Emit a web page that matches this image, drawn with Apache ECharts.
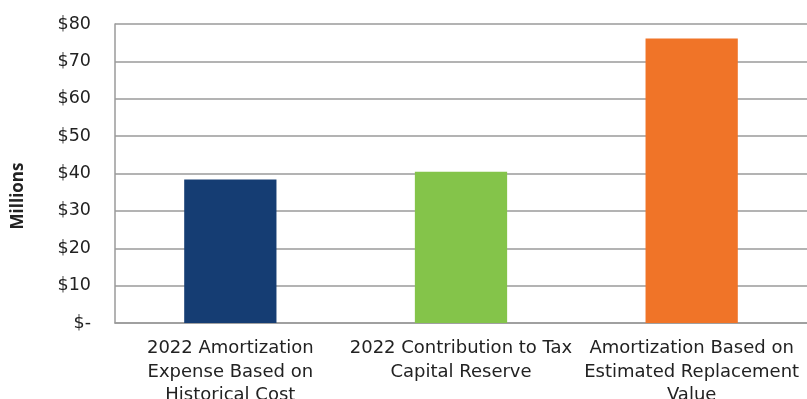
<!DOCTYPE html>
<html>
<head>
<meta charset="utf-8">
<script src="https://cdn.jsdelivr.net/npm/echarts@6/dist/echarts.min.js"></script>
<style>
  html, body { margin: 0; padding: 0; background: #fff; }
  #chart { width: 807px; height: 399px; }
</style>
</head>
<body>
<div id="chart"></div>
<script>
// Amortization comparison, values in millions of dollars
const categories = [
  '2022 Amortization\nExpense Based on\nHistorical Cost',
  '2022 Contribution to Tax\nCapital Reserve',
  'Amortization Based on\nEstimated Replacement\nValue'
];
const values = [38.4, 40.5, 76.1];
const barColors = ['#153D73', '#84C44A', '#F07428'];
const yTicks = [0, 10, 20, 30, 40, 50, 60, 70, 80];

const LABEL_FONT = '"DejaVu Sans"';
const TITLE_FONT = '"Open Sans"';
const chart = echarts.init(document.getElementById('chart'), null, { renderer: 'canvas' });

chart.setOption({
  animation: false,
  textStyle: { fontFamily: LABEL_FONT },
  grid: { left: 115, right: 0, top: 24, bottom: 76, containLabel: false, outerBoundsMode: 'none' },
  xAxis: {
    type: 'category',
    data: categories,
    axisLine: { show: true, lineStyle: { color: '#9a9a9a', width: 1.5 } },
    axisTick: { show: false },
    axisLabel: {
      color: '#222',
      fontFamily: LABEL_FONT,
      fontSize: 18,
      lineHeight: 23.5,
      margin: 14,
      interval: 0,
      hideOverlap: false
    }
  },
  yAxis: {
    type: 'value',
    min: yTicks[0],
    max: yTicks[yTicks.length - 1],
    interval: 10,
    axisLine: { show: true, lineStyle: { color: '#9a9a9a', width: 1.5 } },
    axisTick: { show: false },
    splitLine: { show: true, lineStyle: { color: '#9a9a9a', width: 1.5 } },
    axisLabel: {
      color: '#222',
      fontFamily: LABEL_FONT,
      fontSize: 17.5,
      margin: 24,
      formatter: v => v === 0 ? '$-' : '$' + v
    }
  },
  graphic: [{
    type: 'text',
    x: 18,
    y: 196,
    rotation: Math.PI / 2,
    style: {
      text: 'Millions',
      fill: '#222',
      font: 'bold 17px ' + TITLE_FONT,
      textAlign: 'center',
      textVerticalAlign: 'middle'
    }
  }],
  series: [{
    type: 'bar',
    barWidth: '40%',
    data: values.map((v, i) => ({ value: v, itemStyle: { color: barColors[i] } }))
  }]
});
</script>
</body>
</html>
